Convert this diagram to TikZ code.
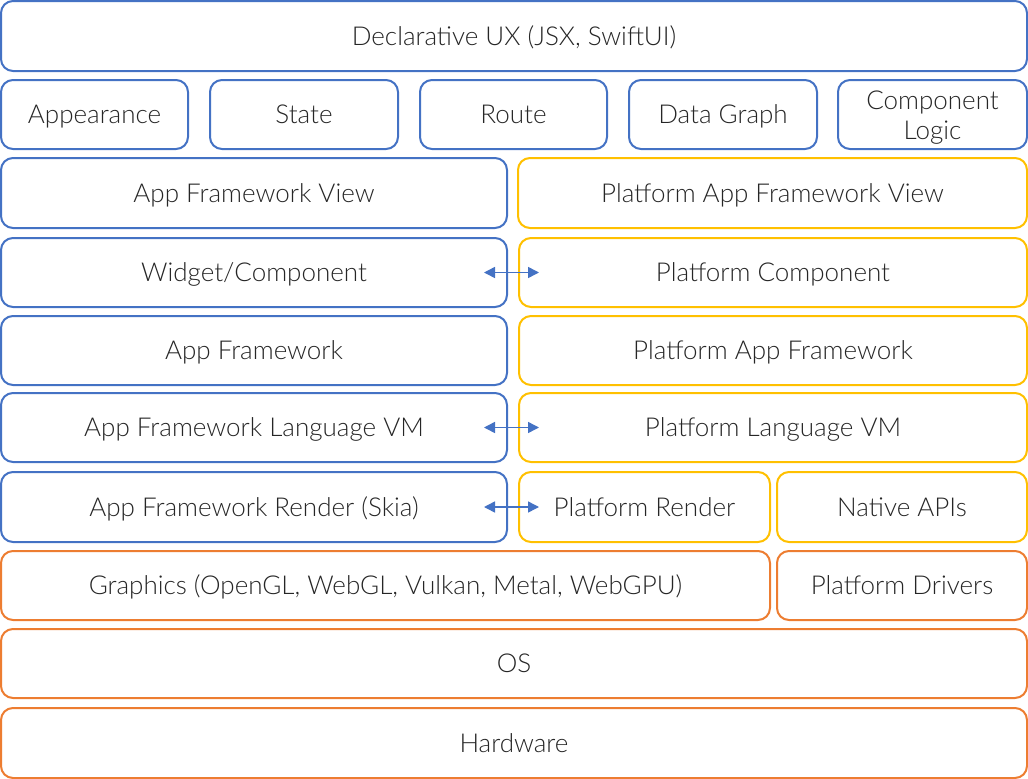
\documentclass[tikz,border=0pt]{standalone}
\usepackage{fontspec}
\setmainfont{Lato Light}
\usetikzlibrary{arrows.meta}
\definecolor{cblue}{HTML}{4472C4}
\definecolor{cyel}{HTML}{FFC000}
\definecolor{corg}{HTML}{ED7D31}
\begin{document}
\begin{tikzpicture}[x=1pt,y=-1pt,
  bx/.style={draw=#1, line width=2pt, rounded corners=12pt, fill=white, inner sep=0pt,
    font=\fontsize{26}{30}\selectfont, text=black!85, text height=18.5pt, text depth=0pt},
  lnk/.style={cblue, line width=1.5pt, {Triangle[width=11pt,length=11pt]}-{Triangle[width=11pt,length=11pt]}}]
\useasboundingbox (0,0) rectangle (1028,779);
\newcommand\bxat[6]{\node[bx=#1, minimum width=#4-#2, minimum height=#5-#3] (#6) at ({(#2+#4)/2},{(#3+#5)/2})}
\bxat{cblue}{1}{1}{1027}{71}{dux} {Declarative UX (JSX, SwiftUI)};
\bxat{cblue}{1}{80}{188}{149}{app} {Appearance};
\bxat{cblue}{210}{80}{398}{149}{st} {State};
\bxat{cblue}{420}{80}{607}{149}{rt} {Route};
\bxat{cblue}{629}{80}{817}{149}{dg} {Data Graph};
\node[bx=cblue, text height=0pt, text depth=0pt, minimum width=189, minimum height=69] (cl) at (932.5,114.5)
  {\raisebox{-10pt}[0pt][0pt]{\begin{tabular}{@{}c@{}}Component\\Logic\end{tabular}}};
\bxat{cblue}{1}{158}{507}{228}{afv} {App Framework View};
\bxat{cyel}{518}{158}{1027}{228}{pafv} {Platform App Framework View};
\bxat{cblue}{1}{238}{507}{307}{wc} {Widget/Component};
\bxat{cyel}{519}{238}{1027}{307}{pc} {Platform Component};
\bxat{cblue}{1}{316}{507}{385}{af} {App Framework};
\bxat{cyel}{519}{316}{1027}{385}{paf} {Platform App Framework};
\bxat{cblue}{1}{393}{507}{462}{vm} {App Framework Language VM};
\bxat{cyel}{519}{393}{1027}{462}{pvm} {Platform Language VM};
\bxat{cblue}{1}{472}{507}{542}{rn} {App Framework Render (Skia)};
\bxat{cyel}{519}{472}{770}{542}{prn} {Platform Render};
\bxat{cyel}{777}{472}{1027}{542}{nat} {Native APIs};
\bxat{corg}{1}{551}{770}{620}{gfx} {Graphics (OpenGL, WebGL, Vulkan, Metal, WebGPU)};
\bxat{corg}{777}{551}{1027}{620}{drv} {Platform Drivers};
\bxat{corg}{1}{629}{1027}{698}{os} {OS};
\bxat{corg}{1}{708}{1027}{778}{hw} {Hardware};
\coordinate (a1) at ([xshift=-24pt]wc.east);
\coordinate (b1) at ([xshift=21pt]pc.west);
\coordinate (a2) at ([xshift=-24pt]vm.east);
\coordinate (b2) at ([xshift=21pt]pvm.west);
\coordinate (a3) at ([xshift=-24pt]rn.east);
\coordinate (b3) at ([xshift=21pt]prn.west);
\draw[lnk] (a1) -- (b1);
\draw[lnk] (a2) -- (b2);
\draw[lnk] (a3) -- (b3);
\end{tikzpicture}
\end{document}
